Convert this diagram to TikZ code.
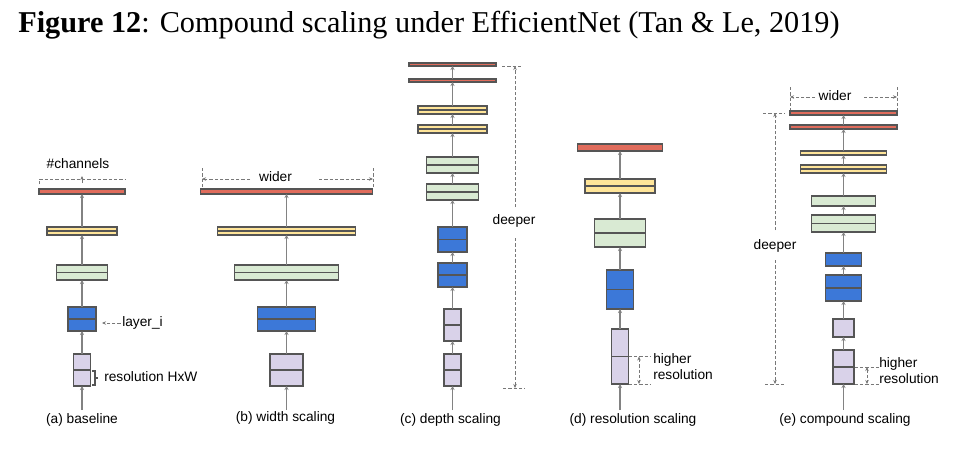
\documentclass[tikz,border=0pt]{standalone}
\usepackage{fontspec}
\setmainfont{Liberation Serif}
\newfontfamily\arialf{Liberation Sans}
\usetikzlibrary{fit,arrows.meta}
\definecolor{cred}{RGB}{224,108,92}
\definecolor{cyel}{RGB}{255,229,153}
\definecolor{cgrn}{RGB}{217,234,211}
\definecolor{cblu}{RGB}{60,120,216}
\definecolor{clav}{RGB}{217,210,233}
\definecolor{cedge}{RGB}{85,85,85}
\definecolor{cconn}{RGB}{130,130,130}
\definecolor{cdash}{RGB}{120,120,120}
\tikzset{
  blkbox/.style={draw=cedge, line width=0.8pt, inner sep=0pt, outer sep=0pt},
  divbox/.style={blkbox, path picture={\draw[cedge,line width=0.8pt] (path picture bounding box.west) -- (path picture bounding box.east);}},
  conn/.style={draw=cconn, line width=0.8pt, -{Stealth[length=3pt,width=3pt]}},
  ann/.style={draw=cdash, line width=0.6pt, dash pattern=on 2.5pt off 1.5pt},
  annarr/.style={ann, -{Stealth[length=3pt,width=2.6pt]}},
  annboth/.style={ann, {Stealth[length=3pt,width=2.6pt]}-{Stealth[length=3pt,width=2.6pt]}},
  lbl/.style={font=\arialf\fontsize{10.3}{12}\selectfont, inner sep=0pt, text=black},
}
\newcommand\blk[6]{\node[#6, fit={({#2-#3},#4) ({#2+#3},#5)}] (#1) {};}
\begin{document}
\begin{tikzpicture}[x=0.75pt,y=-0.75pt]
\useasboundingbox[fill=white] (0,0) rectangle (964,454);
% title
\node[anchor=base west, inner sep=0pt, font=\fontsize{22.7}{26}\selectfont] (title) at (18,32) {\textbf{Figure 12}: Compound scaling under EfficientNet (Tan \& Le, 2019)};

% ---------- (a) baseline ----------
\blk{aR}{82}{43}{189}{194}{blkbox,fill=cred}
\blk{aY}{82}{35}{227}{235}{divbox,fill=cyel}
\blk{aG}{82}{25.5}{265}{280}{divbox,fill=cgrn}
\blk{aB}{82}{14}{307}{331}{divbox,fill=cblu}
\blk{aL}{82}{8.5}{354}{386}{divbox,fill=clav}
\coordinate (aIn) at (82,410);
\draw[conn] (aIn) -- (aL.south);
\draw[conn] (aL.north) -- (aB.south);
\draw[conn] (aB.north) -- (aG.south);
\draw[conn] (aG.north) -- (aY.south);
\draw[conn] (aY.north) -- (aR.south);
\node[lbl] (ach) at (78,164) {\#channels};
\draw[ann] (aR.north west) ++(0,-5) -- ++(0,-5) -| ([yshift=7.5pt]aR.north east);
\coordinate (aArrA) at (82,183);
\coordinate (aArrB) at (82,176);
\draw[annarr] (aArrA) -- (aArrB);
\node[lbl, anchor=west] (alayer) at (122,323) {layer\_i};
\draw[annarr] ([xshift=-1pt]alayer.west) -- ([xshift=4.5pt]aB.east |- alayer.west);
\draw[cedge, line width=0.8pt] (92,371) -- (95,371) -- (95,385) -- (92,385) (95,378) -- (98,378);
\node[lbl, anchor=west] (ares) at (104,377) {resolution HxW};
\node[lbl] (acap) at (82,420) {(a) baseline};

% ---------- (b) width ----------
\blk{bR}{286.5}{86}{189}{194}{blkbox,fill=cred}
\blk{bY}{286.5}{69}{227}{235}{divbox,fill=cyel}
\blk{bG}{286.5}{52}{265}{280}{divbox,fill=cgrn}
\blk{bB}{286.5}{29}{307}{331}{divbox,fill=cblu}
\blk{bL}{286.5}{16.5}{354}{386}{divbox,fill=clav}
\coordinate (bIn) at (286.5,410);
\draw[conn] (bIn) -- (bL.south);
\draw[conn] (bL.north) -- (bB.south);
\draw[conn] (bB.north) -- (bG.south);
\draw[conn] (bG.north) -- (bY.south);
\draw[conn] (bY.north) -- (bR.south);
\node[lbl] (bw) at (275.5,177) {wider};
\coordinate (bTL) at (202,168); \coordinate (bTR) at (373,168);
\draw[ann] (bTL) -- (202,189);
\draw[ann] (bTR) -- (373,189);
\coordinate (bA1) at (250,179); \coordinate (bA2) at (202,179);
\coordinate (bA3) at (319,179); \coordinate (bA4) at (373,179);
\draw[annarr] (bA1) -- (bA2);
\draw[annarr] (bA3) -- (bA4);
\node[lbl] (bcap) at (285.5,418) {(b) width scaling};

% ---------- (c) depth ----------
\blk{cR1}{452.5}{43.5}{63}{66}{blkbox,fill=cred}
\blk{cR2}{452.5}{43.5}{79}{82}{blkbox,fill=cred}
\blk{cY1}{452.5}{34.5}{106}{114}{divbox,fill=cyel}
\blk{cY2}{452.5}{34.5}{125}{133}{divbox,fill=cyel}
\blk{cG1}{452.5}{26}{157}{173}{divbox,fill=cgrn}
\blk{cG2}{452.5}{26}{184}{200}{divbox,fill=cgrn}
\blk{cB1}{452.5}{14.5}{227}{252}{divbox,fill=cblu}
\blk{cB2}{452.5}{14.5}{263}{287}{divbox,fill=cblu}
\blk{cL1}{452.5}{8.5}{309}{341}{divbox,fill=clav}
\blk{cL2}{452.5}{8.5}{354}{386}{divbox,fill=clav}
\coordinate (cIn) at (452.5,410);
\draw[conn] (cIn) -- (cL2.south);
\draw[conn] (cL2.north) -- (cL1.south);
\draw[conn] (cL1.north) -- (cB2.south);
\draw[conn] (cB2.north) -- (cB1.south);
\draw[conn] (cB1.north) -- (cG2.south);
\draw[conn] (cG2.north) -- (cG1.south);
\draw[conn] (cG1.north) -- (cY2.south);
\draw[conn] (cY2.north) -- (cY1.south);
\draw[conn] (cY1.north) -- (cR2.south);
\draw[conn] (cR2.north) -- (cR1.south);
\node[lbl] (cdeep) at (514,221) {deeper};
\draw[ann] (502,66) -- (523,66);
\draw[ann] (503,388) -- (525,388);
\coordinate (cD1) at (515,207); \coordinate (cD2) at (515,66);
\coordinate (cD3) at (515,238); \coordinate (cD4) at (515,388);
\draw[annarr] (cD1) -- (cD2);
\draw[annarr] (cD3) -- (cD4);
\node[lbl] (ccap) at (450.5,420) {(c) depth scaling};

% ---------- (d) resolution ----------
\blk{dR}{620}{42.5}{144}{151}{blkbox,fill=cred}
\blk{dY}{620}{35}{179}{193}{divbox,fill=cyel}
\blk{dG}{620}{25.5}{219}{247}{divbox,fill=cgrn}
\blk{dB}{620}{13.5}{270}{309}{divbox,fill=cblu}
\blk{dL}{620}{8.5}{329}{384}{divbox,fill=clav}
\coordinate (dIn) at (620,410);
\draw[conn] (dIn) -- (dL.south);
\draw[conn] (dL.north) -- (dB.south);
\draw[conn] (dB.north) -- (dG.south);
\draw[conn] (dG.north) -- (dY.south);
\draw[conn] (dY.north) -- (dR.south);
\draw[ann] (628.5,356.5) -- (650,356.5);
\draw[ann] (628.5,384) -- (650,384);
\coordinate (dH1) at (639,356.5); \coordinate (dH2) at (639,384);
\draw[annboth] (dH1) -- (dH2);
\node[lbl, anchor=west, align=left, font=\arialf\fontsize{10.3}{12}\selectfont] (dhr) at (653,367) {higher\\resolution};
\node[lbl] (dcap) at (633,420) {(d) resolution scaling};

% ---------- (e) compound ----------
\blk{eR1}{843.5}{53.5}{111}{115}{blkbox,fill=cred}
\blk{eR2}{843.5}{53.5}{125}{129}{blkbox,fill=cred}
\blk{eY1}{843.5}{43}{151}{155}{blkbox,fill=cyel}
\blk{eY2}{843.5}{43}{165}{173}{divbox,fill=cyel}
\blk{eG1}{843.5}{32}{196}{206}{blkbox,fill=cgrn}
\blk{eG2}{843.5}{32}{215}{232}{divbox,fill=cgrn}
\blk{eB1}{843.5}{18}{253}{266}{blkbox,fill=cblu}
\blk{eB2}{843.5}{18}{275}{301}{divbox,fill=cblu}
\blk{eL1}{843.5}{10.5}{319}{337}{blkbox,fill=clav}
\blk{eL2}{843.5}{10.5}{350}{384}{divbox,fill=clav}
\coordinate (eIn) at (843.5,410);
\draw[conn] (eIn) -- (eL2.south);
\draw[conn] (eL2.north) -- (eL1.south);
\draw[conn] (eL1.north) -- (eB2.south);
\draw[conn] (eB2.north) -- (eB1.south);
\draw[conn] (eB1.north) -- (eG2.south);
\draw[conn] (eG2.north) -- (eG1.south);
\draw[conn] (eG1.north) -- (eY2.south);
\draw[conn] (eY2.north) -- (eY1.south);
\draw[conn] (eY1.north) -- (eR2.south);
\draw[conn] (eR2.north) -- (eR1.south);
\node[lbl] (ew) at (835,96) {wider};
\draw[ann] (790,87) -- (790,110);
\draw[ann] (897,87) -- (897,110);
\coordinate (eA1) at (815,97); \coordinate (eA2) at (790,97);
\coordinate (eA3) at (864,97); \coordinate (eA4) at (897,97);
\draw[annarr] (eA1) -- (eA2);
\draw[annarr] (eA3) -- (eA4);
\node[lbl] (edeep) at (775,246) {deeper};
\draw[ann] (763,113) -- (785,113);
\draw[ann] (765,384) -- (785,384);
\coordinate (eD1) at (775,230); \coordinate (eD2) at (775,113);
\coordinate (eD3) at (775,260); \coordinate (eD4) at (775,384);
\draw[annarr] (eD1) -- (eD2);
\draw[annarr] (eD3) -- (eD4);
\draw[ann] (854.5,367) -- (879,367);
\draw[ann] (854.5,384) -- (879,384);
\coordinate (eH1) at (867,367); \coordinate (eH2) at (867,384);
\draw[annboth] (eH1) -- (eH2);
\node[lbl, anchor=west, align=left, font=\arialf\fontsize{10.3}{12}\selectfont] (ehr) at (879,371) {higher\\resolution};
\node[lbl] (ecap) at (845,420) {(e) compound scaling};
\end{tikzpicture}
\end{document}
